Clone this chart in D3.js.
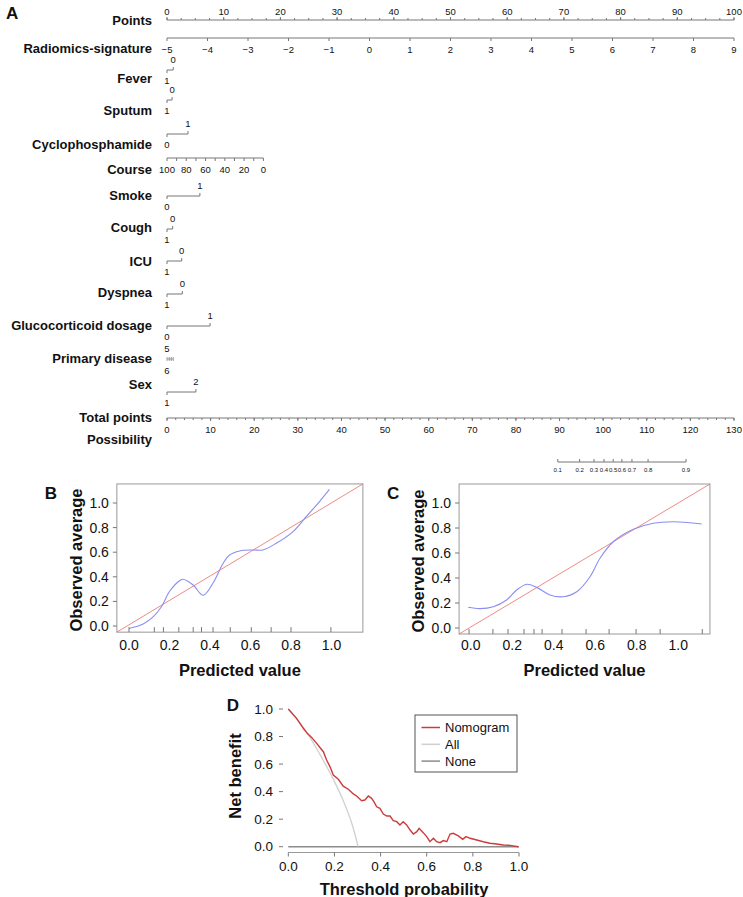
<!DOCTYPE html>
<html><head><meta charset="utf-8">
<script src="https://cdn.jsdelivr.net/npm/d3@7"></script>
<style>body{margin:0;background:#fff}svg{display:block;font-family:"Liberation Sans",Arial,sans-serif}</style>
</head><body><svg id="c" width="743" height="897"></svg>
<script>
// ---------------- DATA ----------------
// Panel A nomogram
const pointsMajor = d3.range(0, 101, 10);
const pointsMinor = d3.range(0, 100.1, 2.5);
const radiomicsTicks = d3.range(-5, 10, 1);
const radiomicsDomain = [-5, 9];          // -5 -> 0 pts, 9 -> 100 pts
const courseTicks = d3.range(100, -1, -10);
const courseLabels = [100, 80, 60, 40, 20, 0];
const coursePointsRange = [0, 17];        // course 100 -> 0 pts, course 0 -> 17 pts
const varNames = ["Fever", "Sputum", "Cyclophosphamide", "Smoke", "Cough", "ICU", "Dyspnea", "Glucocorticoid dosage", "Sex"];
const varTopLevel = ["0", "0", "1", "1", "0", "0", "0", "1", "2"];
const varBottomLevel = ["1", "1", "0", "0", "1", "1", "1", "0", "1"];
const varTopPoints = [1.1, 0.9, 3.7, 5.8, 1.0, 2.6, 2.7, 7.6, 5.1];
const varBottomPoints = [0, 0, 0, 0, 0, 0, 0, 0, 0];
const primaryLevelsTop = ["5"];
const primaryLevelsBottom = ["6"];
const primaryPoints = [0, 0.4, 0.75, 1.1];
const totalMajor = d3.range(0, 131, 10);
const totalMinor = d3.range(0, 130.1, 2);
const possLabels = ["0.1", "0.2", "0.3", "0.4", "0.5", "0.6", "0.7", "0.8", "0.9"];
const possTotals = [89.6, 94.6, 97.9, 100.2, 102.3, 104.3, 106.6, 110.3, 119.0];

// Panel B calibration (training)
const calBx = [0.0, 0.07, 0.12, 0.16, 0.20, 0.243, 0.267, 0.317, 0.366, 0.415, 0.465, 0.497, 0.547, 0.612, 0.66, 0.727, 0.81, 0.875, 0.94, 0.99];
const calBy = [-0.02, 0.016, 0.076, 0.157, 0.28, 0.36, 0.38, 0.333, 0.25, 0.35, 0.51, 0.577, 0.61, 0.618, 0.618, 0.672, 0.767, 0.889, 1.01, 1.11];
const calBrug = [0.0, 0.125, 0.17, 0.246, 0.317, 0.358, 0.415, 0.5, 0.604, 0.702, 0.8, 0.997];
// Panel C calibration (validation)
const calCx = [-0.012, 0.045, 0.109, 0.173, 0.222, 0.27, 0.318, 0.382, 0.446, 0.511, 0.575, 0.623, 0.687, 0.784, 0.88, 0.976, 1.057, 1.113];
const calCy = [0.166, 0.155, 0.17, 0.224, 0.304, 0.35, 0.325, 0.264, 0.25, 0.29, 0.41, 0.558, 0.69, 0.79, 0.838, 0.85, 0.842, 0.832];
const calCrug = [-0.008, 0.107, 0.18, 0.257, 0.305, 0.344, 0.44, 0.556, 0.667, 0.797, 0.913, 1.116];
const calTicks = [0, 0.2, 0.4, 0.6, 0.8, 1.0];

// Panel D decision curve
const dcaX = [0, 0.036, 0.065, 0.082, 0.101, 0.123, 0.137, 0.152, 0.166, 0.181, 0.195, 0.217, 0.238, 0.26, 0.282, 0.296, 0.318, 0.332, 0.347, 0.361, 0.371, 0.383, 0.397, 0.412, 0.427, 0.441, 0.455, 0.47, 0.484, 0.498, 0.513, 0.528, 0.542, 0.557, 0.567, 0.585, 0.6, 0.614, 0.629, 0.643, 0.658, 0.672, 0.687, 0.701, 0.715, 0.737, 0.756, 0.77, 0.788, 0.817, 0.845, 0.874, 0.903, 0.932, 0.961, 0.997];
const dcaNomogram = [1.0, 0.932, 0.86, 0.823, 0.794, 0.75, 0.72, 0.69, 0.63, 0.58, 0.52, 0.49, 0.44, 0.417, 0.383, 0.368, 0.334, 0.339, 0.368, 0.351, 0.327, 0.29, 0.279, 0.237, 0.223, 0.223, 0.189, 0.182, 0.158, 0.182, 0.158, 0.121, 0.092, 0.109, 0.134, 0.102, 0.073, 0.036, 0.061, 0.036, 0.029, 0.044, 0.036, 0.092, 0.097, 0.078, 0.054, 0.073, 0.061, 0.049, 0.036, 0.025, 0.02, 0.012, 0.01, 0.0];
const dcaAllX = [0, 0.04, 0.08, 0.137, 0.195, 0.238, 0.275, 0.303];
const dcaAll = [1.0, 0.92, 0.83, 0.67, 0.49, 0.335, 0.17, 0.0];
const dcaNoneX = [0, 1];
const dcaNone = [0, 0];
const legendNames = ["Nomogram", "All", "None"];
const yTicksD = [0, 0.2, 0.4, 0.6, 0.8, 1.0];

// ---------------- DRAW ----------------
const svg = d3.select("#c");
const AX = "#777";
const BOLD = "bold";

function txt(g, x, y, s, o = {}) {
  return g.append("text").attr("x", x).attr("y", y).text(s)
    .attr("dominant-baseline", "central")
    .attr("text-anchor", o.anchor || "middle")
    .attr("font-size", o.size || 9.5)
    .attr("font-weight", o.weight || "normal")
    .attr("fill", o.fill || "#111");
}
function line(g, x1, y1, x2, y2, c = AX, w = 1) {
  g.append("line").attr("x1", x1).attr("y1", y1).attr("x2", x2).attr("y2", y2)
    .attr("stroke", c).attr("stroke-width", w);
}

// ---- Panel A ----
const A = svg.append("g");
txt(A, 6, 13, "A", {anchor: "start", size: 17, weight: BOLD});
const xP = d3.scaleLinear().domain([0, 100]).range([167, 734]);
const labX = 152;
const labO = {anchor: "end", size: 13, weight: BOLD};

// Points
txt(A, labX, 20, "Points", labO);
line(A, xP(0), 20, xP(100), 20);
pointsMinor.forEach(p => line(A, xP(p), 20, xP(p), 18));
pointsMajor.forEach(p => { line(A, xP(p), 20, xP(p), 17); txt(A, xP(p), 11, p); });

// Radiomics
const radPts = d3.scaleLinear().domain(radiomicsDomain).range([0, 100]);
txt(A, labX, 48, "Radiomics-signature", labO);
line(A, xP(0), 38, xP(100), 38);
radiomicsTicks.forEach(v => {
  const x = xP(radPts(v));
  line(A, x, 38, x, 41);
  txt(A, x, 49, v < 0 ? "\u2212" + Math.abs(v) : v);
});

// binary variables
const rowLine = [70, 100, 134, 196, 229, 261, 294, 326, 392];
const rowLab = [78, 110, 144, 195, 227, 261, 292, 325, 384];
varNames.forEach((n, i) => {
  const y = rowLine[i];
  txt(A, labX, rowLab[i], n, labO);
  const xt = xP(varTopPoints[i]), xb = xP(varBottomPoints[i]);
  line(A, Math.min(xt, xb), y, Math.max(xt, xb), y);
  line(A, xt, y, xt, y - 3);
  line(A, xb, y, xb, y + 3);
  txt(A, xt, y - 11, varTopLevel[i]);
  txt(A, xb, y + 10, varBottomLevel[i]);
});

// Course
const coursePts = d3.scaleLinear().domain([100, 0]).range(coursePointsRange);
txt(A, labX, 169, "Course", labO);
line(A, xP(coursePts(100)), 158, xP(coursePts(0)), 158);
courseTicks.forEach(v => line(A, xP(coursePts(v)), 158, xP(coursePts(v)), 161));
courseLabels.forEach(v => txt(A, xP(coursePts(v)), 169, v));

// Primary disease
txt(A, labX, 358, "Primary disease", labO);
line(A, xP(d3.min(primaryPoints)), 359, xP(d3.max(primaryPoints)), 359, "#888", 0.8);
primaryPoints.forEach(p => line(A, xP(p), 357, xP(p), 361, "#888", 0.8));
txt(A, xP(0), 348, primaryLevelsTop[0]);
txt(A, xP(0), 370, primaryLevelsBottom[0]);

// Total points
const xT = d3.scaleLinear().domain([0, 130]).range([167, 734]);
txt(A, labX, 417, "Total points", labO);
line(A, xT(0), 418, xT(130), 418);
totalMinor.forEach(v => line(A, xT(v), 418, xT(v), 420));
totalMajor.forEach(v => { line(A, xT(v), 418, xT(v), 421); txt(A, xT(v), 429, v); });

// Possibility
txt(A, labX, 439, "Possibility", labO);
line(A, xT(possTotals[0]), 462, xT(possTotals[possTotals.length - 1]), 462);
possTotals.forEach((t, i) => {
  line(A, xT(t), 462, xT(t), 459);
  txt(A, xT(t), 470, possLabels[i], {size: 6});
});

// ---- Calibration panels ----
function calPanel(o) {
  const g = svg.append("g");
  const x = d3.scaleLinear().domain([0, 1]).range(o.xr);
  const y = d3.scaleLinear().domain([0, 1]).range(o.yr);
  const [bx0, bx1] = o.bx, [by0, by1] = o.by;
  line(g, x(bx0), y(by0), x(bx1), y(by1), "#f08a86", 1);
  g.append("path").datum(o.cx.map((v, i) => [v, o.cy[i]]))
    .attr("d", d3.line().x(d => x(d[0])).y(d => y(d[1])).curve(d3.curveCatmullRom.alpha(0.5)))
    .attr("fill", "none").attr("stroke", "#8a8ef0").attr("stroke-width", 1.1);
  g.append("rect").attr("x", x(bx0)).attr("y", y(by1)).attr("width", x(bx1) - x(bx0)).attr("height", y(by0) - y(by1))
    .attr("fill", "none").attr("stroke", "#999").attr("stroke-width", 1);
  o.rug.forEach(v => line(g, x(v), y(by0), x(v), y(by0) - 5, "#777"));
  calTicks.forEach(v => {
    line(g, x(bx0), y(v), x(bx0) - 4, y(v), "#777");
    txt(g, x(bx0) - 8, y(v), v.toFixed(1), {anchor: "end", size: 14});
  });
  calTicks.forEach(v => txt(g, x(v), 645, v.toFixed(1), {size: 14}));
  txt(g, (x(bx0) + x(bx1)) / 2, 670, "Predicted value", {size: 16.5, weight: BOLD});
  g.append("text").attr("transform", `translate(${x(bx0) - 41},${(y(by0) + y(by1)) / 2 + 2}) rotate(-90)`)
    .attr("text-anchor", "middle").attr("dominant-baseline", "central")
    .attr("font-size", 16.5).attr("font-weight", BOLD).attr("fill", "#111").text("Observed average");
  txt(g, x(bx0) - 66, 493, o.letter, {size: 17, weight: BOLD});
}
calPanel({letter: "B", xr: [129, 331.5], yr: [626, 503], bx: [-0.06, 1.155], by: [-0.05, 1.155],
  cx: calBx, cy: calBy, rug: calBrug});
calPanel({letter: "C", xr: [470.7, 678.2], yr: [628, 503], bx: [-0.056, 1.153], by: [-0.048, 1.152],
  cx: calCx, cy: calCy, rug: calCrug});

// ---- Panel D ----
const D = svg.append("g");
const xD = d3.scaleLinear().domain([0, 1]).range([288.3, 519]);
const yD = d3.scaleLinear().domain([0, 1]).range([846.7, 709]);
const lineD = d3.line().x(d => xD(d[0])).y(d => yD(d[1]));
D.append("path").datum(dcaNoneX.map((v, i) => [v, dcaNone[i]])).attr("d", lineD)
  .attr("fill", "none").attr("stroke", "#8c8c8c").attr("stroke-width", 1.5);
D.append("path").datum(dcaAllX.map((v, i) => [v, dcaAll[i]])).attr("d", d3.line().x(d => xD(d[0])).y(d => yD(d[1])).curve(d3.curveMonotoneX))
  .attr("fill", "none").attr("stroke", "#d0d0d0").attr("stroke-width", 1.3);
D.append("path").datum(dcaX.map((v, i) => [v, dcaNomogram[i]])).attr("d", d3.line().x(d => xD(d[0])).y(d => yD(d[1])))
  .attr("fill", "none").attr("stroke", "#cc3b3b").attr("stroke-width", 1.4);
yTicksD.forEach(v => {
  line(D, 283, yD(v), 279, yD(v), "#777");
  txt(D, 273, yD(v), v.toFixed(1), {anchor: "end", size: 13.5});
});
line(D, xD(0), 852.5, xD(1), 852.5, "#999");
yTicksD.forEach(v => {
  line(D, xD(v), 852.5, xD(v), 856.5, "#777");
  txt(D, xD(v), 866, v.toFixed(1), {size: 13.5});
});
txt(D, 404, 889, "Threshold probability", {size: 16.5, weight: BOLD});
D.append("text").attr("transform", "translate(235,776) rotate(-90)")
  .attr("text-anchor", "middle").attr("dominant-baseline", "central")
  .attr("font-size", 16.5).attr("font-weight", BOLD).attr("fill", "#111").text("Net benefit");
txt(D, 233, 705, "D", {size: 17, weight: BOLD});
D.append("rect").attr("x", 415).attr("y", 715).attr("width", 102).attr("height", 57)
  .attr("fill", "#fff").attr("stroke", "#555").attr("stroke-width", 1);
const legColors = ["#cc3b3b", "#d0d0d0", "#8c8c8c"];
legendNames.forEach((n, i) => {
  const y = 727.5 + i * 16.8;
  line(D, 421.5, y, 440, y, legColors[i], 1.5);
  txt(D, 445, y, n, {anchor: "start", size: 13});
});
</script></body></html>
